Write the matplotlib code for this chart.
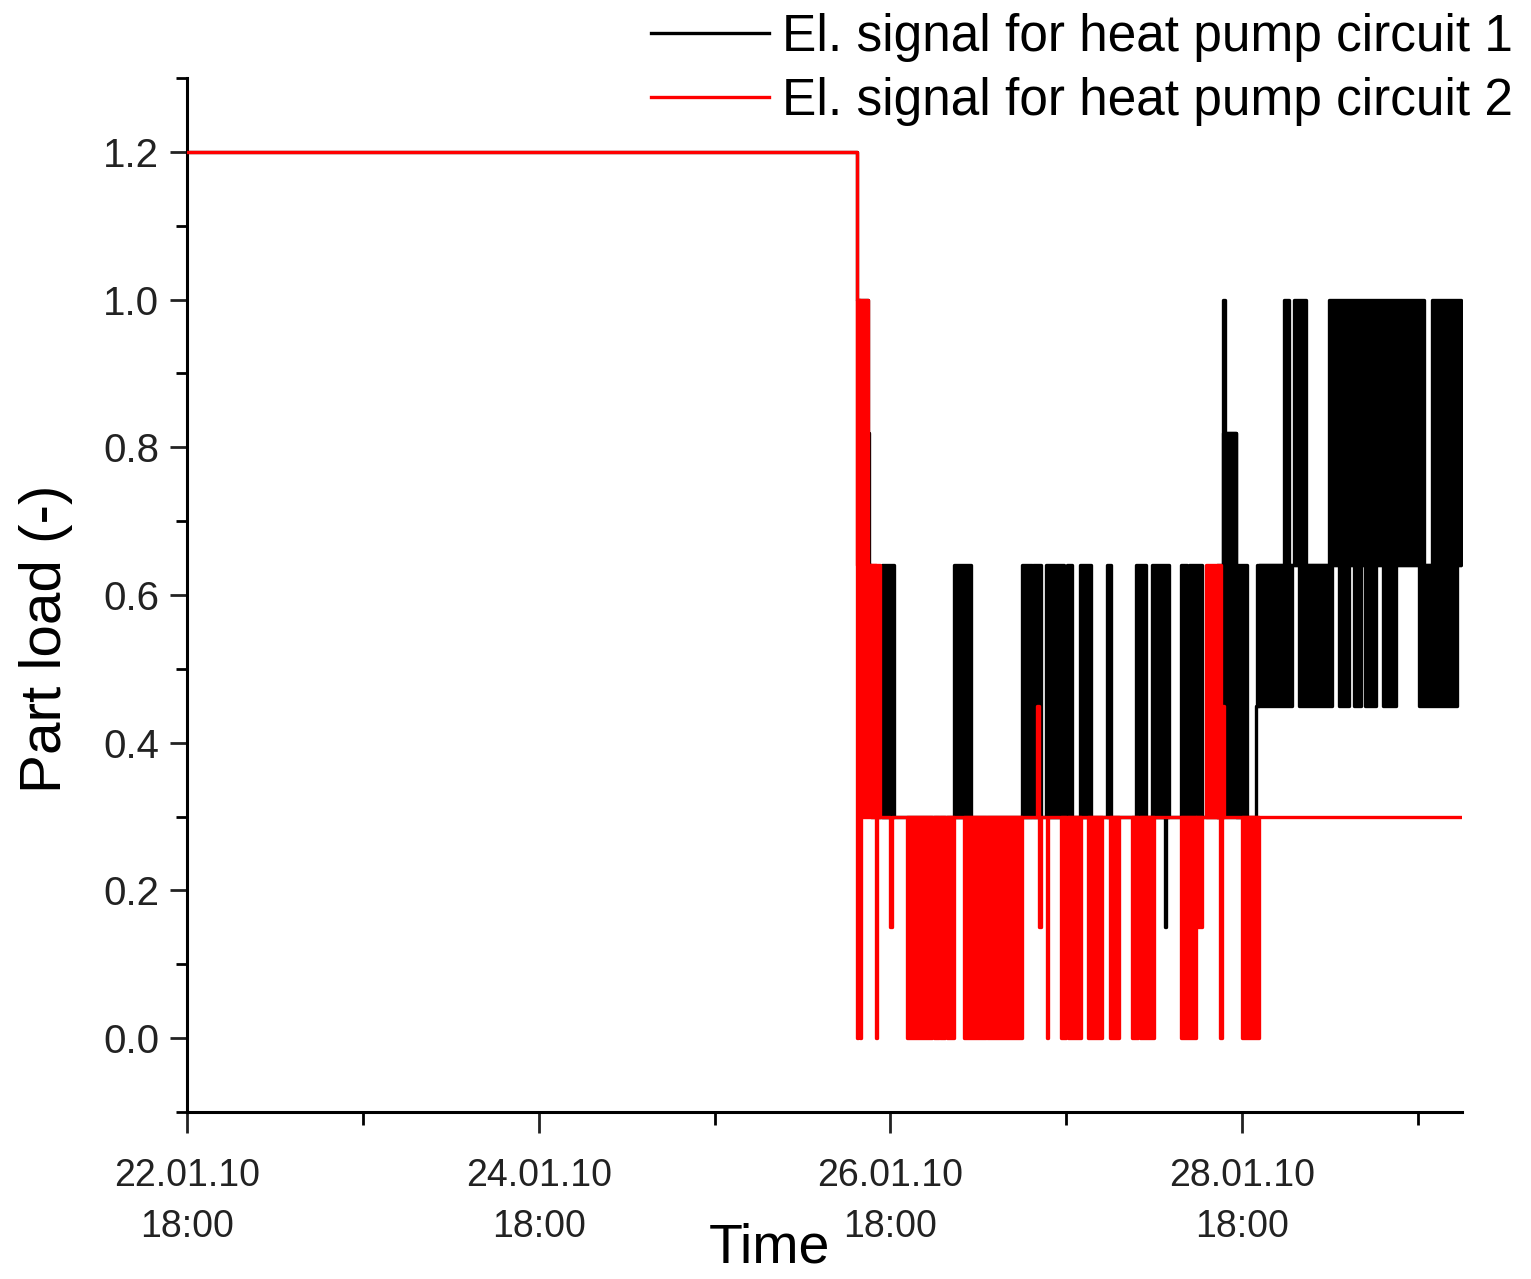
import matplotlib
matplotlib.use("Agg")
import matplotlib.pyplot as plt
import matplotlib.dates as mdates
from matplotlib.ticker import MultipleLocator, FormatStrFormatter
import numpy as np

plt.rcParams["font.family"] = ["Liberation Sans", "DejaVu Sans"]

START = np.datetime64("2010-01-22T18:00")
END_HOURS = 174.0

# circuit 1 (black): value changes, hours after 22.01.10 18:00 -> part load
c1_hours = [0.0, 91.4, 92.9, 93.1, 93.3, 133.4, 133.6, 141.4, 141.6, 143.2, 145.9, 146.3]
c1_load = [1.2, 1.0, 0.82, 0.64, 0.3, 0.15, 0.3, 1.0, 0.82, 0.3, 0.45, 0.64]

# circuit 1, periods of fast on/off switching between two levels
c1_fast_start = [94.9, 104.7, 114.0, 115.5, 117.2, 120.1, 121.8, 125.5, 129.5, 131.7, 135.7,
                 136.8, 140.5, 146.0, 151.8, 157.2, 159.3, 160.8, 163.2, 168.1,
                 149.7, 151.1, 155.9, 169.9, 141.4]
c1_fast_end = [96.5, 107.0, 115.3, 116.6, 119.7, 120.8, 123.4, 126.1, 130.9, 134.0, 136.4,
               138.5, 144.7, 150.8, 156.3, 158.6, 160.2, 162.3, 165.0, 173.3,
               150.4, 152.7, 168.8, 173.8, 143.2]
c1_fast_low = [0.3] * 13 + [0.45] * 7 + [0.64] * 4 + [0.64]
c1_fast_high = [0.64] * 13 + [0.64] * 7 + [1.0] * 4 + [0.82]

# circuit 2 (red)
c2_hours = [0.0, 91.4, 91.55, 91.8, 91.95, 94.0, 94.15, 96.0, 96.2, 116.0, 116.3, 116.6,
            117.3, 117.5, 141.0, 141.2]
c2_load = [1.2, 0.0, 1.0, 0.0, 0.64, 0.0, 0.3, 0.15, 0.3, 0.45, 0.15, 0.3,
           0.0, 0.3, 0.0, 0.3]

c2_fast_start = [91.5, 91.8, 98.3, 101.9, 102.8, 103.7, 106.1, 109.2, 119.3, 120.2, 122.9,
                 125.9, 129.0, 130.1, 135.7, 144.0, 137.7, 139.1, 140.5]
c2_fast_end = [92.9, 94.6, 101.7, 102.6, 103.5, 104.7, 109.0, 114.0, 120.0, 122.0, 124.8,
               127.2, 129.8, 132.0, 137.7, 146.3, 138.5, 141.1, 141.5]
c2_fast_low = [0.64, 0.3] + [0.0] * 14 + [0.15, 0.3, 0.3]
c2_fast_high = [1.0, 0.64] + [0.3] * 14 + [0.3, 0.64, 0.45]

major_ticks = ["2010-01-22T18:00", "2010-01-24T18:00", "2010-01-26T18:00", "2010-01-28T18:00"]
minor_ticks = ["2010-01-23T18:00", "2010-01-25T18:00", "2010-01-27T18:00", "2010-01-29T18:00"]

labels = ["El. signal for heat pump circuit 1", "El. signal for heat pump circuit 2"]
colors = ["black", "red"]


def to_time(hours):
    sec = np.round(np.asarray(hours, dtype=float) * 3600).astype("int64")
    return START + sec.astype("timedelta64[s]")


fig = plt.figure(figsize=(15.31, 12.79), dpi=100)
ax = fig.add_axes([0.1221, 0.1306, 0.8329, 0.8084])
lw = 2.4

series = [
    (c1_hours, c1_load, c1_fast_start, c1_fast_end, c1_fast_low, c1_fast_high),
    (c2_hours, c2_load, c2_fast_start, c2_fast_end, c2_fast_low, c2_fast_high),
]
for i, (hrs, load, fs, fe, flo, fhi) in enumerate(series):
    z = 2 + i
    t = to_time(list(hrs) + [END_HOURS])
    y = list(load) + [load[-1]]
    ax.step(t, y, where="post", color=colors[i], lw=lw, label=labels[i], zorder=z)
    for s, e, lo, hi in zip(fs, fe, flo, fhi):
        ax.fill_between(to_time([s, e]), lo, hi, color=colors[i], lw=lw,
                        edgecolor=colors[i], zorder=z)

ax.set_xlim(to_time(0.0), to_time(END_HOURS))
ax.set_ylim(-0.1, 1.3)

ax.set_xticks(np.array(major_ticks, dtype="datetime64[m]"))
ax.set_xticks(np.array(minor_ticks, dtype="datetime64[m]"), minor=True)
ax.xaxis.set_major_formatter(mdates.DateFormatter("%d.%m.%y\n%H:%M"))

ax.yaxis.set_major_locator(MultipleLocator(0.2))
ax.yaxis.set_minor_locator(MultipleLocator(0.1))
ax.yaxis.set_major_formatter(FormatStrFormatter("%.1f"))
ax.set_yticks(np.arange(0, 1.21, 0.2))

for side in ["top", "right"]:
    ax.spines[side].set_visible(False)
for side in ["left", "bottom"]:
    ax.spines[side].set_linewidth(2.2)

ax.tick_params(axis="both", which="major", direction="out", width=2.0, colors="#222222")
ax.tick_params(axis="x", which="major", length=15, pad=18, labelsize=27)
ax.tick_params(axis="x", which="minor", direction="out", length=9, width=2.0)
ax.tick_params(axis="y", which="major", length=12, pad=8, labelsize=29)
ax.tick_params(axis="y", which="minor", direction="out", length=8, width=2.0)
for lab in ax.get_xticklabels():
    lab.set_linespacing(1.55)

ax.set_xlabel("Time", fontsize=40)
ax.xaxis.set_label_coords(0.457, -0.1325)
ax.xaxis.label.set_va("center")
ax.set_ylabel("Part load (-)", fontsize=42)
ax.yaxis.set_label_coords(-0.1106, 0.458)
ax.yaxis.label.set_va("center")

fig.legend(loc="upper right", bbox_to_anchor=(0.993, 0.996), frameon=False, fontsize=37,
           handlelength=2.3, handletextpad=0.25, labelspacing=0.3, borderpad=0.15,
           borderaxespad=0.0)

fig.savefig("out.png", dpi=100)
